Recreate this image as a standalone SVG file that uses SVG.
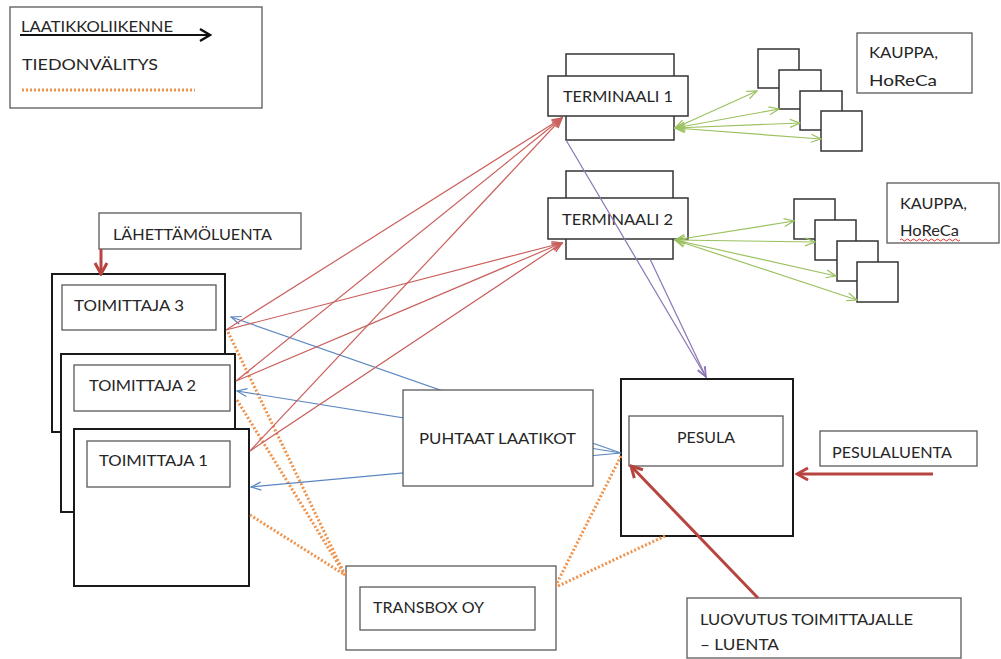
<svg xmlns="http://www.w3.org/2000/svg" width="1001" height="659" viewBox="0 0 1001 659">
<style>
.t{font-family:Lato,"Liberation Sans",sans-serif;font-size:16px;fill:#262626}
.ts{font-family:Lato,"Liberation Sans",sans-serif;font-size:15px;fill:#262626}
.thin{fill:#fff;stroke:#595959;stroke-width:1.3}
.thick{fill:#fff;stroke:#1a1a1a;stroke-width:2}
.term{fill:#fff;stroke:#333;stroke-width:1.5}
.red{stroke:#c9605c;stroke-width:1.2;fill:none;marker-end:url(#mRed)}
.blue{stroke:#5b87c0;stroke-width:1.2;fill:none;marker-end:url(#mBlue)}
.purple{stroke:#8a75b5;stroke-width:1.2;fill:none;marker-end:url(#mPurple)}
.green{stroke:#9bc160;stroke-width:1.2;fill:none;marker-start:url(#mGreen);marker-end:url(#mGreen)}
.dot{stroke:#f0924a;stroke-width:3;stroke-dasharray:2 2;fill:none}
.bigred{stroke:#b8443f;stroke-width:3;fill:none;marker-end:url(#mBig)}
</style>
<defs>
<marker id="mRed" markerUnits="userSpaceOnUse" markerWidth="12" markerHeight="12" viewBox="0 0 12 12" refX="11" refY="6" orient="auto"><path d="M1,2 L11,6 L1,10" fill="none" stroke="#c9605c" stroke-width="1.4"/></marker>
<marker id="mBlue" markerUnits="userSpaceOnUse" markerWidth="12" markerHeight="12" viewBox="0 0 12 12" refX="11" refY="6" orient="auto"><path d="M1,2 L11,6 L1,10" fill="none" stroke="#5b87c0" stroke-width="1.2"/></marker>
<marker id="mPurple" markerUnits="userSpaceOnUse" markerWidth="12" markerHeight="12" viewBox="0 0 12 12" refX="11" refY="6" orient="auto"><path d="M1,2 L11,6 L1,10" fill="none" stroke="#8a75b5" stroke-width="1.2"/></marker>
<marker id="mGreen" markerUnits="userSpaceOnUse" markerWidth="12" markerHeight="12" viewBox="0 0 12 12" refX="11" refY="6" orient="auto-start-reverse"><path d="M1,2 L11,6 L1,10" fill="none" stroke="#9bc160" stroke-width="1.2"/></marker>
<marker id="mBig" markerUnits="userSpaceOnUse" markerWidth="16" markerHeight="16" viewBox="0 0 16 16" refX="14" refY="8" orient="auto"><path d="M3,2 L14,8 L3,14" fill="none" stroke="#b8443f" stroke-width="3"/></marker>
<marker id="mBlack" markerUnits="userSpaceOnUse" markerWidth="16" markerHeight="16" viewBox="0 0 16 16" refX="14" refY="8" orient="auto"><path d="M4,2 L14,8 L4,14" fill="none" stroke="#111" stroke-width="2.4"/></marker>
</defs>

<g id="legend">
<rect class="thin" x="10" y="7" width="252" height="101"/>
<text class="ts" x="21" y="32" textLength="152" lengthAdjust="spacingAndGlyphs">LAATIKKOLIIKENNE</text>
<line x1="20" y1="35" x2="210" y2="35" stroke="#111" stroke-width="2" marker-end="url(#mBlack)"/>
<text class="ts" x="22" y="70" textLength="136" lengthAdjust="spacingAndGlyphs">TIEDONVÄLITYS</text>
<line class="dot" x1="22" y1="90" x2="195" y2="90" stroke-width="2.5"/>
</g>

<g id="lahettamoluenta">
<rect class="thin" x="99" y="213" width="202" height="36"/>
<text class="t" x="113" y="240" textLength="159" lengthAdjust="spacingAndGlyphs">LÄHETTÄMÖLUENTA</text>
</g>

<g id="toimittaja3">
<rect class="thick" x="52" y="274" width="173" height="158"/>
<rect class="thin" x="62" y="285" width="154" height="45"/>
<text class="t" x="74" y="311" textLength="110" lengthAdjust="spacingAndGlyphs">TOIMITTAJA 3</text>
</g>
<g id="toimittaja2">
<rect class="thick" x="61" y="354" width="174" height="158"/>
<rect class="thin" x="74" y="365" width="156" height="46"/>
<text class="t" x="89" y="391" textLength="107" lengthAdjust="spacingAndGlyphs">TOIMITTAJA 2</text>
</g>
<g id="toimittaja1">
<rect class="thick" x="74" y="429" width="175" height="157"/>
<rect class="thin" x="87" y="441" width="143" height="46"/>
<text class="t" x="99" y="466" textLength="109" lengthAdjust="spacingAndGlyphs">TOIMITTAJA 1</text>
</g>

<g id="terminaali1">
<rect class="term" x="566" y="54" width="108" height="86"/>
<rect class="term" x="548" y="76" width="140" height="40"/>
<text class="t" x="563" y="102" textLength="110" lengthAdjust="spacingAndGlyphs">TERMINAALI 1</text>
</g>
<g id="terminaali2">
<rect class="term" x="566" y="171" width="107" height="88"/>
<rect class="term" x="548" y="198" width="140" height="41"/>
<text class="t" x="562" y="225" textLength="111" lengthAdjust="spacingAndGlyphs">TERMINAALI 2</text>
</g>

<g id="kaupat1">
<rect class="term" x="758" y="49" width="41" height="39"/>
<rect class="term" x="779" y="70" width="42" height="39"/>
<rect class="term" x="800" y="91" width="42" height="39"/>
<rect class="term" x="821" y="111" width="41" height="40"/>
</g>
<g id="kaupat2">
<rect class="term" x="794" y="199" width="41" height="40"/>
<rect class="term" x="815" y="220" width="41" height="40"/>
<rect class="term" x="837" y="241" width="41" height="40"/>
<rect class="term" x="857" y="262" width="41" height="40"/>
</g>

<g id="kauppa1">
<rect class="thin" x="857" y="33" width="115" height="60"/>
<text class="t" x="869" y="58" textLength="69" lengthAdjust="spacingAndGlyphs">KAUPPA,</text>
<text class="t" x="869" y="86" textLength="68" lengthAdjust="spacingAndGlyphs">HoReCa</text>
</g>
<g id="kauppa2">
<rect class="thin" x="887" y="183" width="112" height="60"/>
<text class="t" x="900" y="209" textLength="67" lengthAdjust="spacingAndGlyphs">KAUPPA,</text>
<text class="t" x="900" y="236" textLength="59" lengthAdjust="spacingAndGlyphs">HoReCa</text>
<path d="M900,240 q1.5,-2 3,0 t3,0 t3,0 t3,0 t3,0 t3,0 t3,0 t3,0 t3,0 t3,0 t3,0 t3,0 t3,0 t3,0 t3,0 t3,0 t3,0 t3,0 t3,0 t3,0" fill="none" stroke="#e03030" stroke-width="1"/>
</g>

<g id="pesula">
<rect class="thick" x="621" y="379" width="172" height="157"/>
<rect class="thin" x="629" y="416" width="154" height="50"/>
<text class="t" x="677" y="443" textLength="58" lengthAdjust="spacingAndGlyphs">PESULA</text>
</g>
<g id="pesulaluenta">
<rect class="thin" x="820" y="431" width="157" height="35"/>
<text class="t" x="832" y="458" textLength="120" lengthAdjust="spacingAndGlyphs">PESULALUENTA</text>
</g>
<g id="luovutus">
<rect class="thin" x="687" y="598" width="274" height="60"/>
<text class="t" x="700" y="625" textLength="213" lengthAdjust="spacingAndGlyphs">LUOVUTUS TOIMITTAJALLE</text>
<text class="t" x="700" y="650" textLength="79" lengthAdjust="spacingAndGlyphs">– LUENTA</text>
</g>
<g id="transbox">
<rect class="thin" x="346" y="566" width="210" height="84"/>
<rect class="thin" x="360" y="587" width="175" height="43"/>
<text class="t" x="373" y="613" textLength="111" lengthAdjust="spacingAndGlyphs">TRANSBOX OY</text>
</g>

<g id="connectors">
<line class="dot" x1="228" y1="332" x2="345" y2="575"/>
<line class="dot" x1="237" y1="400" x2="345" y2="575"/>
<line class="dot" x1="250" y1="515" x2="345" y2="575"/>
<line class="dot" x1="621" y1="456" x2="556" y2="585"/>
<line class="dot" x1="665" y1="536" x2="556" y2="587"/>
<line class="blue" x1="621" y1="453" x2="231" y2="317"/>
<line class="blue" x1="621" y1="453" x2="237" y2="391"/>
<line class="blue" x1="621" y1="453" x2="251" y2="487"/>
<line class="red" x1="226" y1="330" x2="562" y2="118"/>
<line class="red" x1="226" y1="330" x2="562" y2="243"/>
<line class="red" x1="236" y1="381" x2="562" y2="118"/>
<line class="red" x1="236" y1="381" x2="562" y2="243"/>
<line class="red" x1="250" y1="451" x2="562" y2="118"/>
<line class="red" x1="250" y1="451" x2="562" y2="243"/>
<line class="purple" x1="566" y1="140" x2="706" y2="377"/>
<line class="purple" x1="650" y1="259" x2="706" y2="377"/>
<line class="green" x1="675" y1="128" x2="757" y2="91"/>
<line class="green" x1="675" y1="128" x2="779" y2="109"/>
<line class="green" x1="675" y1="128" x2="800" y2="123"/>
<line class="green" x1="675" y1="128" x2="821" y2="139"/>
<line class="green" x1="675" y1="240" x2="794" y2="221"/>
<line class="green" x1="675" y1="240" x2="815" y2="242"/>
<line class="green" x1="675" y1="240" x2="836" y2="276"/>
<line class="green" x1="675" y1="240" x2="857" y2="300"/>
<line class="bigred" x1="101" y1="249" x2="101" y2="274" stroke-width="2.5"/>
<line class="bigred" x1="933" y1="474" x2="797" y2="474"/>
<line class="bigred" x1="758" y1="598" x2="631" y2="466"/>
</g>

<g id="puhtaat">
<rect class="thin" x="403" y="390" width="190" height="96"/>
<text class="t" x="419" y="444" textLength="157" lengthAdjust="spacingAndGlyphs">PUHTAAT LAATIKOT</text>
</g>
</svg>
